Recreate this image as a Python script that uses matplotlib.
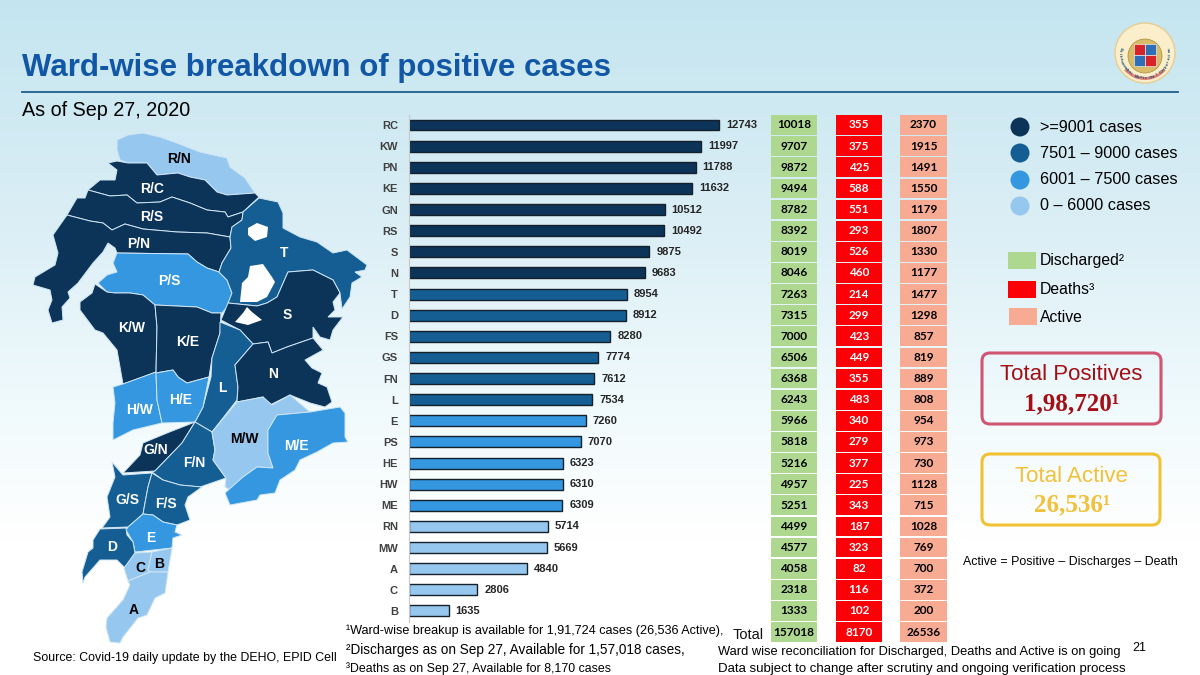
import numpy as np
import matplotlib
matplotlib.use('Agg')
import matplotlib.pyplot as plt
from matplotlib.patches import Polygon, Rectangle, Circle, FancyBboxPatch, Wedge

# Ward data
wards = ['RC', 'KW', 'PN', 'KE', 'GN', 'RS', 'S', 'N', 'T', 'D', 'FS', 'GS', 'FN', 'L', 'E', 'PS',
         'HE', 'HW', 'ME', 'RN', 'MW', 'A', 'C', 'B']
positives = [12743, 11997, 11788, 11632, 10512, 10492, 9875, 9683, 8954, 8912, 8280, 7774, 7612,
             7534, 7260, 7070, 6323, 6310, 6309, 5714, 5669, 4840, 2806, 1635]
discharged = [10018, 9707, 9872, 9494, 8782, 8392, 8019, 8046, 7263, 7315, 7000, 6506, 6368,
              6243, 5966, 5818, 5216, 4957, 5251, 4499, 4577, 4058, 2318, 1333, 157018]
deaths = [355, 375, 425, 588, 551, 293, 526, 460, 214, 299, 423, 449, 355, 483, 340, 279, 377,
          225, 343, 187, 323, 82, 116, 102, 8170]
active = [2370, 1915, 1491, 1550, 1179, 1807, 1330, 1177, 1477, 1298, 857, 819, 889, 808, 954,
          973, 730, 1128, 715, 1028, 769, 700, 372, 200, 26536]

# Colours
DARK, MID, LIGHT, PALE = '#0c3358', '#145e94', '#3497e0', '#96c8ef'
GREEN, RED, SALMON = '#aed88f', '#fb0007', '#f7ab92'
legend_labels = ['>=9001 cases', '7501 – 9000 cases', '6001 – 7500 cases', '0 – 6000 cases']
legend_colors = [DARK, MID, LIGHT, PALE]


def ward_color(v):
    if v >= 9001:
        return DARK
    if v >= 7501:
        return MID
    if v >= 6001:
        return LIGHT
    return PALE


# Map outlines (pixels)
map_shapes = {
    'RN': [(117,140),(128,135),(143,133),(160,137),(177,143),(200,152),(227,158),(230,167),(245,178),(255,193),(227,195),(217,192),(205,180),(190,177),(178,173),(157,175),(147,163),(128,163),(120,160),(117,150)],
    'RC': [(108,163),(117,161),(128,163),(147,163),(157,175),(178,173),(190,177),(205,180),(217,192),(227,195),(255,193),(259,197),(243,212),(228,217),(225,212),(207,210),(190,203),(172,197),(160,202),(137,203),(127,195),(110,196),(88,190),(100,180),(115,180),(117,170)],
    'RS': [(88,190),(110,196),(127,195),(137,203),(160,202),(172,197),(190,203),(207,210),(225,212),(228,217),(243,212),(242,220),(232,227),(230,237),(207,233),(177,232),(143,229),(125,224),(112,230),(103,223),(90,221),(67,215),(77,198),(85,198)],
    'PN': [(67,215),(90,221),(103,223),(112,230),(125,224),(143,229),(177,232),(207,233),(230,237),(231,248),(222,263),(219,272),(207,268),(197,262),(188,254),(117,253),(115,248),(108,243),(103,252),(93,263),(78,283),(68,292),(70,298),(62,307),(63,320),(52,323),(48,310),(52,300),(50,290),(33,285),(35,277),(55,265),(58,253),(53,235)],
    'PS': [(117,253),(188,254),(197,262),(207,268),(219,272),(227,280),(232,293),(227,307),(222,313),(212,313),(197,307),(155,305),(143,295),(130,293),(115,293),(107,292),(98,283),(107,275),(117,272),(113,263)],
    'KW': [(95,284),(107,292),(115,293),(130,293),(143,295),(155,305),(157,327),(156,372),(143,377),(123,384),(120,367),(117,350),(103,333),(95,330),(80,310),(80,302),(92,293)],
    'KE': [(155,305),(197,307),(212,313),(221,313),(220,333),(212,358),(209,377),(187,383),(178,377),(173,370),(156,373),(157,327)],
    'T': [(259,198),(278,202),(283,213),(283,228),(300,237),(317,242),(333,253),(347,250),(367,265),(365,270),(355,272),(362,277),(352,283),(350,297),(342,309),(340,293),(333,280),(313,270),(288,272),(277,297),(267,303),(257,306),(228,303),(232,293),(227,280),(219,272),(222,263),(231,248),(230,237),(232,227),(242,220),(243,212)],
    'S': [(288,272),(313,270),(333,280),(340,293),(333,302),(335,310),(328,317),(343,317),(333,330),(330,340),(320,337),(313,327),(313,338),(287,347),(272,353),(268,342),(253,344),(240,330),(221,320),(228,303),(257,306),(267,303),(277,297)],
    'L': [(220,322),(240,330),(253,344),(235,365),(238,387),(237,400),(212,432),(195,422),(203,407),(211,377),(212,358),(220,333)],
    'N': [(253,344),(268,342),(272,353),(287,347),(313,338),(323,350),(305,360),(312,368),(322,373),(318,383),(327,387),(332,402),(325,407),(310,403),(290,395),(270,405),(263,397),(237,402),(238,387),(235,365)],
    'HW': [(113,387),(123,384),(156,372),(157,400),(162,423),(133,430),(113,440),(113,423),(115,403)],
    'HE': [(156,373),(173,370),(178,377),(187,383),(209,377),(203,407),(195,422),(162,423),(157,400)],
    'GN': [(195,422),(182,443),(155,471),(123,473),(140,455),(143,443),(167,433)],
    'FN': [(195,422),(212,432),(215,450),(213,460),(226,478),(200,487),(180,485),(163,480),(152,472),(155,471),(182,443)],
    'MW': [(212,432),(237,402),(263,397),(272,405),(290,395),(310,412),(277,415),(268,430),(268,453),(273,468),(257,467),(243,477),(230,490),(225,487),(226,478),(213,460),(215,450)],
    'ME': [(277,415),(310,412),(340,407),(345,413),(345,437),(348,442),(333,443),(317,452),(300,460),(295,470),(280,480),(275,493),(260,495),(257,500),(230,505),(225,493),(243,477),(257,467),(273,468),(268,453),(268,430)],
    'GS': [(112,462),(117,468),(123,475),(152,473),(148,487),(145,503),(143,514),(128,527),(102,528),(110,517),(107,497),(115,477)],
    'FS': [(152,473),(163,480),(180,485),(202,487),(188,497),(185,505),(190,520),(177,525),(163,522),(153,515),(143,514),(145,503),(148,487)],
    'E': [(143,514),(153,515),(163,522),(177,525),(175,532),(182,535),(173,538),(172,548),(135,552),(133,542),(126,530),(128,527)],
    'D': [(100,529),(126,528),(127,535),(133,542),(135,553),(125,568),(117,560),(100,560),(85,577),(83,583),(82,572),(88,552),(93,548),(93,540)],
    'C': [(135,553),(152,552),(148,570),(150,572),(128,581),(124,568)],
    'B': [(152,552),(172,548),(168,572),(150,572),(148,570)],
    'A': [(128,581),(150,572),(168,572),(165,593),(155,598),(147,615),(138,618),(123,637),(120,643),(110,642),(106,627),(107,618),(123,600),(130,585)],
}
map_holes = [
    [(248,228),(257,223),(268,227),(267,237),(255,241),(248,235)],
    [(250,266),(263,264),(272,277),(275,282),(267,297),(257,302),(240,302),(242,283),(248,277)],
    [(247,307),(252,312),(262,320),(248,325),(235,322),(243,313)],
]
map_labels = {
    'RN': ('R/N', 179, 159), 'RC': ('R/C', 152, 189), 'RS': ('R/S', 152, 217), 'PN': ('P/N', 139, 244),
    'PS': ('P/S', 169, 281), 'T': ('T', 284, 253), 'KW': ('K/W', 132, 328), 'KE': ('K/E', 188, 342),
    'S': ('S', 287, 315), 'N': ('N', 273, 374), 'L': ('L', 222, 388), 'HE': ('H/E', 181, 400),
    'HW': ('H/W', 140, 410), 'GN': ('G/N', 156, 450), 'FN': ('F/N', 194, 463), 'MW': ('M/W', 244, 439),
    'ME': ('M/E', 296, 446), 'GS': ('G/S', 127, 500), 'FS': ('F/S', 166, 504), 'E': ('E', 151, 538),
    'D': ('D', 112, 547), 'C': ('C', 140, 568), 'B': ('B', 159, 564), 'A': ('A', 134, 610),
}

ROW0, ROW_H = 125, 21.13
ARIAL = 'Liberation Sans'

fig = plt.figure(figsize=(12, 6.75), dpi=100)

# Full slide axes in pixel units
bg = fig.add_axes([0, 0, 1, 1])
bg.set_xlim(0, 1200)
bg.set_ylim(675, 0)
bg.axis('off')

ys = np.linspace(0, 1, 256)
r = np.interp(ys, [0, 0.3, 0.6, 0.8, 1], [0.77, 0.85, 0.94, 1, 1])
g = np.interp(ys, [0, 0.3, 0.6, 0.8, 1], [0.90, 0.93, 0.98, 1, 1])
b = np.interp(ys, [0, 0.3, 0.6, 0.8, 1], [0.94, 0.96, 0.99, 1, 1])
grad = np.stack([r, g, b], axis=1)[:, None, :]
bg.imshow(grad, extent=[0, 1200, 675, 0], aspect='auto', zorder=0)

# Header
bg.text(22, 68, 'Ward-wise breakdown of positive cases', family=ARIAL, weight='bold', fontsize=22.5,
        color='#1157a5', va='center')
bg.plot([22, 1178], [91.5, 91.5], color='#1f5f8b', lw=1.3)
bg.text(22, 111, 'As of Sep 27, 2020', family=ARIAL, fontsize=14.2, color='black', va='center')

# Logo
lx, ly = 1145, 53
bg.add_patch(Circle((lx, ly), 30, fc='#fbeecb', ec='#e6cd92', lw=1))
bg.add_patch(Wedge((lx, ly), 27, 40, 140, width=3, fc='#d9534f', ec='none', alpha=0.7))
bg.add_patch(Circle((lx, ly + 3), 17, fc='#d9bc6a', ec='#a98d3d', lw=0.5))
bg.add_patch(Rectangle((lx - 11, ly - 9), 11, 11, fc='#d8232a', ec='white', lw=0.4))
bg.add_patch(Rectangle((lx, ly - 9), 11, 11, fc='#2e6fb5', ec='white', lw=0.4))
bg.add_patch(Rectangle((lx - 11, ly + 2), 11, 11, fc='#2e6fb5', ec='white', lw=0.4))
bg.add_patch(Rectangle((lx, ly + 2), 11, 11, fc='#d8232a', ec='white', lw=0.4))
ring = 'Brihanmumbai Municipal Corporation'
for i, ch in enumerate(ring):
    theta = 170 + i * 200 / (len(ring) - 1)
    ang = np.deg2rad(theta)
    bg.text(lx + 25 * np.cos(ang), ly - 25 * np.sin(ang), ch, fontsize=3, family=ARIAL, weight='bold',
            color='#1f4e79', ha='center', va='center', rotation=theta + 90, rotation_mode='anchor')

# Map
pos_by_ward = dict(zip(wards, positives))
for key, pts in map_shapes.items():
    bg.add_patch(Polygon(pts, closed=True, fc=ward_color(pos_by_ward[key]), ec='#cfe6f5', lw=0.7, zorder=2))
for pts in map_holes:
    bg.add_patch(Polygon(pts, closed=True, fc='white', ec='none', zorder=3))
for key, (name, x, y) in map_labels.items():
    col = 'black' if ward_color(pos_by_ward[key]) == PALE else 'white'
    bg.text(x, y, name, family=ARIAL, weight='bold', fontsize=10, color=col, ha='center', va='center', zorder=4)

# Bars
left, right = 409, 770
top, bottom = 114.5, 621.5
ax = fig.add_axes([left / 1200, 1 - bottom / 675, (right - left) / 1200, (bottom - top) / 675])
ax.patch.set_alpha(0)
ax.set_xlim(0, (right - left) * 12743 / 310)
ax.set_ylim((bottom - ROW0) / ROW_H, (top - ROW0) / ROW_H)
rows = np.arange(len(wards))
bars = ax.barh(rows, positives, height=0.52, color=[ward_color(v) for v in positives],
               edgecolor='#15202b', linewidth=1)
ax.bar_label(bars, labels=[str(v) for v in positives], padding=5, family=ARIAL, weight='bold',
             fontsize=8, color='#262626')
ax.set_yticks(rows, wards, family=ARIAL, weight='bold', fontsize=8, color='#404040')
ax.tick_params(axis='y', length=0, pad=8)
ax.xaxis.set_visible(False)
for side in ['top', 'right', 'bottom']:
    ax.spines[side].set_visible(False)
ax.spines['left'].set_color('#c8c8c8')
ax.spines['left'].set_linewidth(0.8)

# Table columns
columns = [(771, 46, GREEN, 'black', discharged), (836, 46, RED, 'white', deaths), (900, 47, SALMON, 'black', active)]
for x0, w, fc, tc, values in columns:
    for i, v in enumerate(values):
        yc = ROW0 + i * ROW_H
        bg.add_patch(Rectangle((x0, yc - ROW_H / 2 + 0.7), w, ROW_H - 1.4, fc=fc, ec='none', zorder=2))
        bg.text(x0 + w / 2, yc, str(v), family='Lato', weight='bold', fontsize=8.5, color=tc,
                ha='center', va='center', zorder=3)
bg.text(733, 635, 'Total', family=ARIAL, fontsize=10.5, va='center', color='#111111')

# Legends
for i, (lab, col) in enumerate(zip(legend_labels, legend_colors)):
    yc = [127, 153, 180, 206][i]
    bg.add_patch(Circle((1020, yc), 9.5, fc=col, ec='none', zorder=2))
    bg.text(1040, yc, lab, family=ARIAL, fontsize=11.7, va='center', color='black')

for y0, x0, col, lab, ty in [(252, 1008, GREEN, 'Discharged²', 261), (281, 1008, RED, 'Deaths³', 290),
                             (308, 1009, SALMON, 'Active', 317)]:
    bg.add_patch(Rectangle((x0, y0), 28, 17, fc=col, ec='none'))
    bg.text(1040, ty, lab, family=ARIAL, fontsize=11.3, va='center', color='black')

# Totals boxes
bg.add_patch(FancyBboxPatch((982, 353), 179, 71, boxstyle='round,pad=0,rounding_size=8', mutation_aspect=1,
                            fc='none', ec='#cf5570', lw=2.2))
bg.text(1071, 375, 'Total Positives', family=ARIAL, fontsize=16, color='#a30f14', ha='center', va='center')
bg.text(1072, 404, '1,98,720¹', family='Liberation Serif', weight='bold', fontsize=18, color='#a30f14',
        ha='center', va='center')
bg.add_patch(FancyBboxPatch((982, 454), 178, 71, boxstyle='round,pad=0,rounding_size=8', mutation_aspect=1,
                            fc='none', ec='#f0c232', lw=2.2))
bg.text(1071, 477, 'Total Active', family=ARIAL, fontsize=16, color='#f2c13a', ha='center', va='center')
bg.text(1072, 505, '26,536¹', family='Liberation Serif', weight='bold', fontsize=18, color='#f2c13a',
        ha='center', va='center')
bg.text(963, 562, 'Active = Positive – Discharges – Death', family=ARIAL, fontsize=8.9, va='center', color='black')

# Footnotes
bg.text(33, 658, 'Source: Covid-19 daily update by the DEHO, EPID Cell', family=ARIAL, fontsize=8.9, va='center')
bg.text(346, 631, '¹Ward-wise breakup is available for 1,91,724 cases (26,536 Active),', family=ARIAL, fontsize=9.1, va='center')
bg.text(346, 650, '²Discharges as on Sep 27, Available for 1,57,018 cases,', family=ARIAL, fontsize=9.8, va='center')
bg.text(346, 669, '³Deaths as on Sep 27, Available for 8,170 cases', family=ARIAL, fontsize=8.9, va='center')
bg.text(718, 652, 'Ward wise reconciliation for Discharged, Deaths and Active is on going', family=ARIAL, fontsize=9.3, va='center')
bg.text(718, 669, 'Data subject to change after scrutiny and ongoing verification process', family=ARIAL, fontsize=9.5, va='center')
bg.text(1139, 648, '21', family=ARIAL, fontsize=9, ha='center', va='center')

fig.savefig('out.png', dpi=100)
